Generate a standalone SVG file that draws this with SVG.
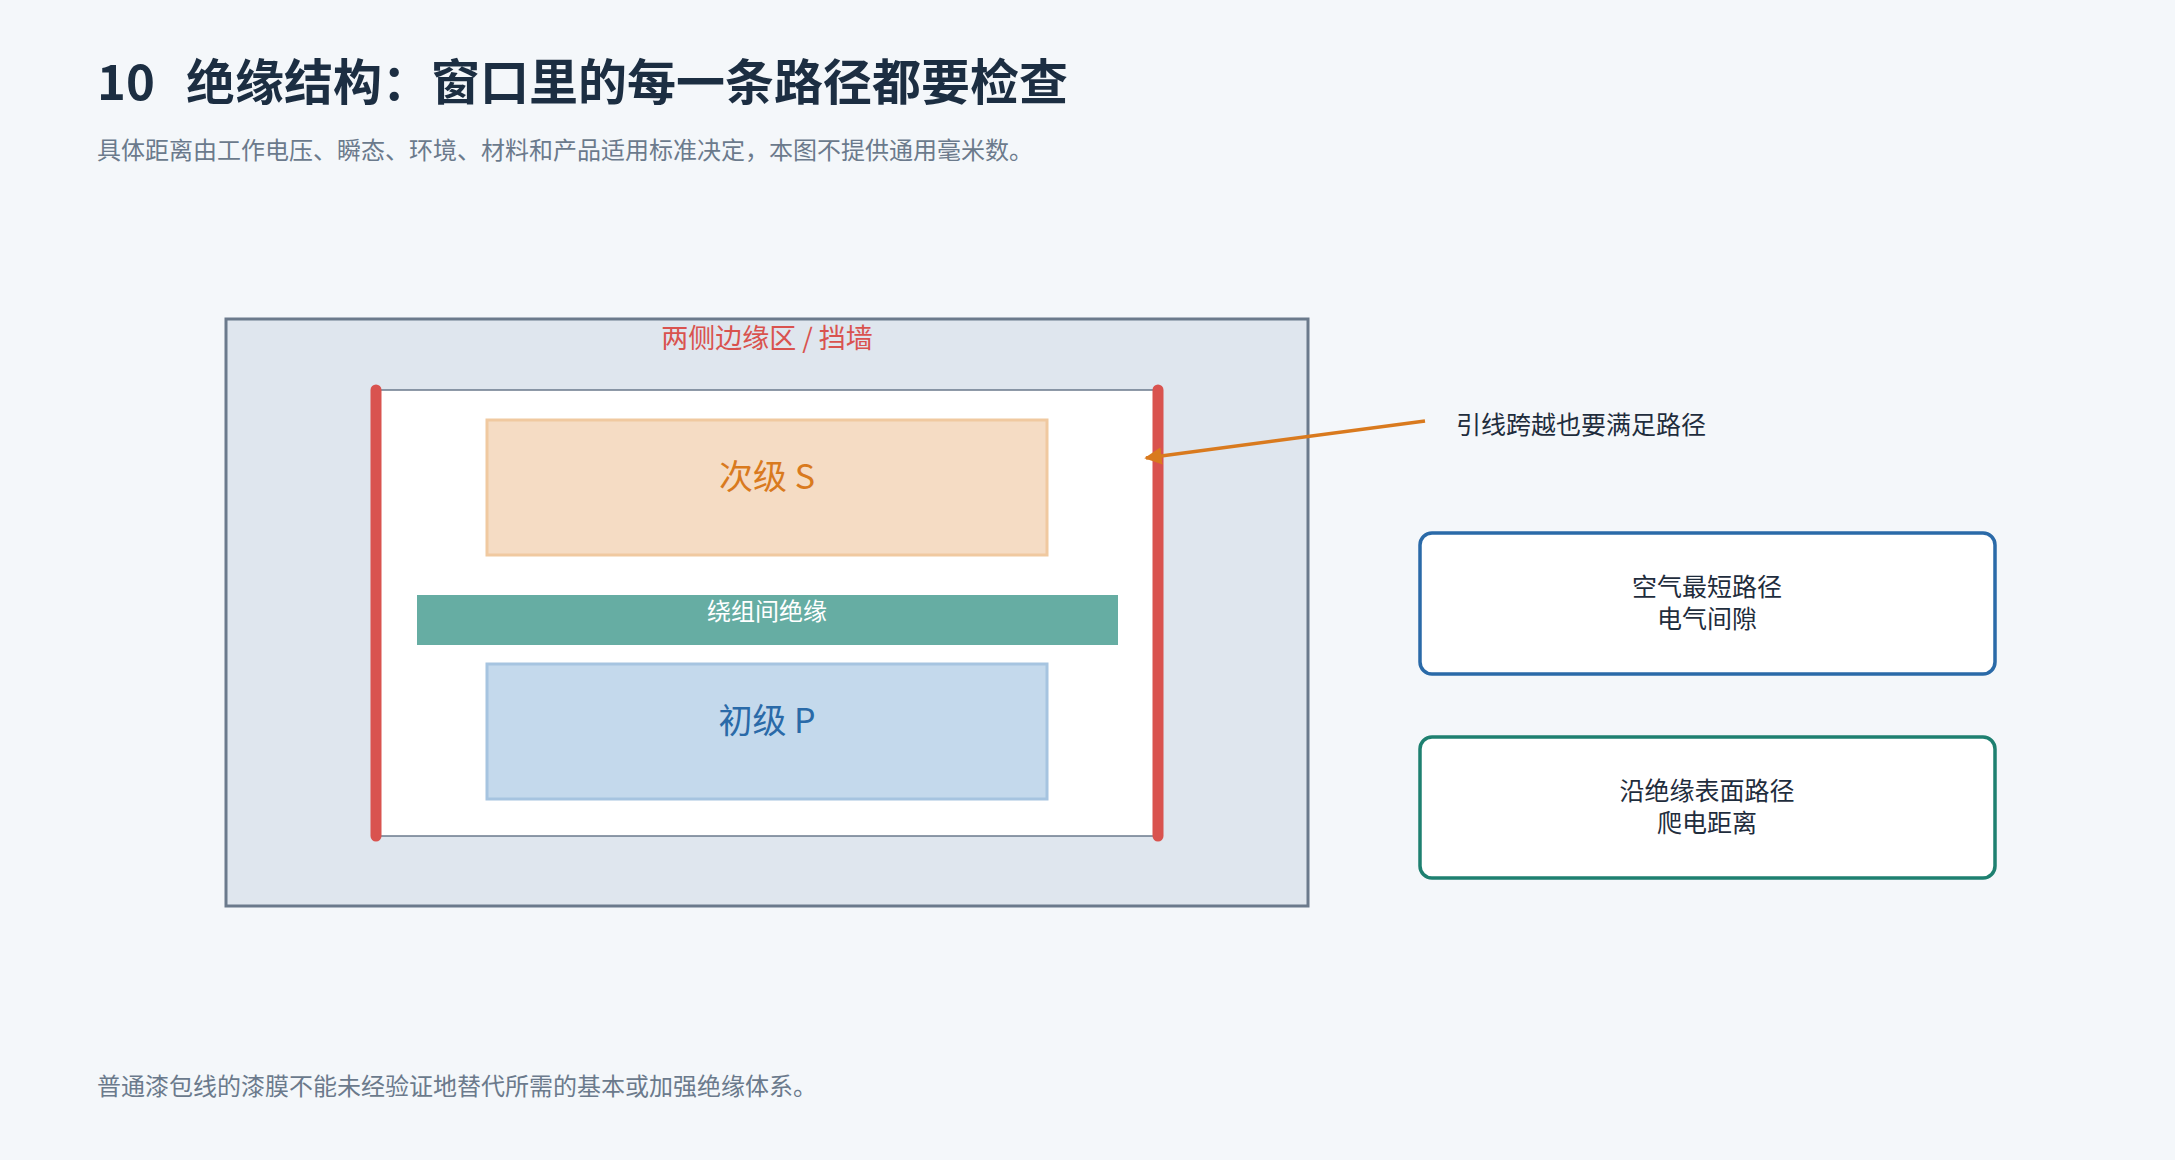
<svg xmlns="http://www.w3.org/2000/svg" width="2175" height="1160" viewBox="0 0 2175 1160">
<defs>
<style>
text{font-family:"Noto Sans CJK SC","Noto Sans",sans-serif}
.c{text-anchor:middle}
.box{fill:#fff;stroke-width:3.5}
.note{font-size:25px;fill:#1f2d3d}
</style>
<marker id="ah" viewBox="0 0 10 10" refX="9" refY="5" markerWidth="5" markerHeight="5" orient="auto"><path d="M0,0L10,5L0,10z" fill="#d97a1e"/></marker>
</defs>
<rect width="2175" height="1160" fill="#f4f7fa"/>
<text x="97" y="100" font-size="49" font-weight="700" fill="#1c2e42">10</text>
<text x="186" y="100" font-size="49" font-weight="700" fill="#1c2e42">绝缘结构：窗口里的每一条路径都要检查</text>
<text x="97" y="159" font-size="24" fill="#6b7a8c">具体距离由工作电压、瞬态、环境、材料和产品适用标准决定，本图不提供通用毫米数。</text>
<g id="window">
<rect x="226" y="319" width="1082" height="587" fill="#dfe6ee" stroke="#6b7a8c" stroke-width="3"/>
<text class="c" x="767" y="348" font-size="27" fill="#d9534f">两侧边缘区 / 挡墙</text>
<rect x="376" y="390" width="782" height="446" fill="#fff" stroke="#6b7a8c" stroke-width="1.5"/>
<line x1="376" y1="390" x2="376" y2="836" stroke="#d9534f" stroke-width="11" stroke-linecap="round"/>
<line x1="1158" y1="390" x2="1158" y2="836" stroke="#d9534f" stroke-width="11" stroke-linecap="round"/>
</g>
<g id="secondary">
<rect x="487" y="420" width="560" height="135" fill="#f5dcc4" stroke="#f0c9a0" stroke-width="3"/>
<text class="c" x="767" y="489" font-size="34" fill="#d97a1e">次级 S</text>
</g>
<g id="insulation">
<rect x="417" y="595" width="701" height="50" fill="#66ada3"/>
<text class="c" x="767" y="620" font-size="24" fill="#fff">绕组间绝缘</text>
</g>
<g id="primary">
<rect x="487" y="664" width="560" height="135" fill="#c4d9ec" stroke="#a6c4e0" stroke-width="3"/>
<text class="c" x="767" y="733" font-size="34" fill="#2a6aa8">初级 P</text>
</g>
<g id="connectors">
<line x1="1425" y1="421" x2="1146" y2="458" stroke="#d97a1e" stroke-width="3.5" marker-end="url(#ah)"/>
</g>
<g id="lead-note"><text class="note" x="1456" y="434" font-size="27">引线跨越也要满足路径</text></g>
<g id="clearance">
<rect class="box" x="1420" y="533" width="575" height="141" rx="12" stroke="#2a6aa8"/>
<text class="c note" x="1707" y="596">空气最短路径</text>
<text class="c note" x="1707" y="628">电气间隙</text>
</g>
<g id="creepage">
<rect class="box" x="1420" y="737" width="575" height="141" rx="12" stroke="#1e8070"/>
<text class="c note" x="1707" y="800">沿绝缘表面路径</text>
<text class="c note" x="1707" y="832">爬电距离</text>
</g>
<text x="97" y="1095" font-size="24" fill="#6b7a8c">普通漆包线的漆膜不能未经验证地替代所需的基本或加强绝缘体系。</text>
</svg>
